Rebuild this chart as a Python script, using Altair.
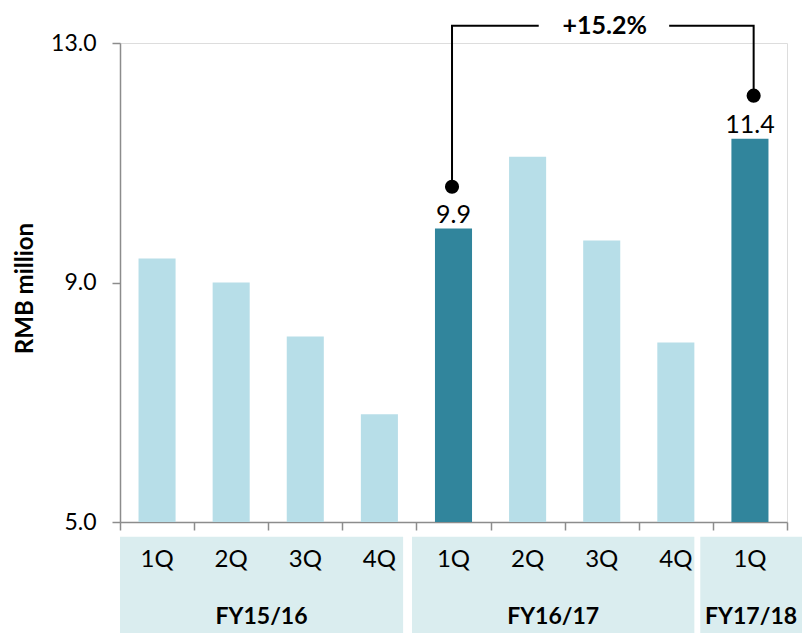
import altair as alt
import pandas as pd

# Quarterly values, RMB million
quarters = ["1Q", "2Q", "3Q", "4Q", "1Q", "2Q", "3Q", "4Q", "1Q"]
years = ["FY15/16"] * 4 + ["FY16/17"] * 4 + ["FY17/18"]
values = [9.4, 9.0, 8.1, 6.8, 9.9, 11.1, 9.7, 8.0, 11.4]
highlight = [False, False, False, False, True, False, False, False, True]

# Fiscal-year groups shown under the axis (span in category slots)
group_names = ["FY15/16", "FY16/17", "FY17/18"]
group_start = [0.0, 3.94, 7.83]
group_end = [3.82, 7.75, 9.4]

# Growth bracket between the two highlighted quarters
bracket_x = [4.48, 4.48, 5.65, None, 7.41, 8.55, 8.55]
bracket_y = [10.6, 13.29, 13.29, None, 13.29, 13.29, 12.12]
growth_label = "+15.2%"

LIGHT = "#B7DEE8"
DARK = "#31859C"
PANEL = "#DAEDEF"
FONT = "Lato"

bars_df = pd.DataFrame({
    "slot": list(range(len(values))),
    "quarter": quarters,
    "year": years,
    "value": values,
    "hl": highlight,
})
bars_df["x0"] = bars_df["slot"] + 0.25
bars_df["x1"] = bars_df["slot"] + 0.75
bars_df["xc"] = bars_df["slot"] + 0.5
bars_df["color"] = [DARK if h else LIGHT for h in highlight]
bars_df["base"] = 5.0
bars_df["qy"] = 4.25

groups_df = pd.DataFrame({
    "name": group_names,
    "x0": group_start,
    "x1": group_end,
})
groups_df["xc"] = [(a + min(b, 9.2)) / 2 for a, b in zip(group_start, group_end)]
groups_df["ytop"] = 4.755
groups_df["ybot"] = 3.0
groups_df["ylab"] = 3.29

seg_rows = []
seg_id = 0
order = 0
for x, y in zip(bracket_x, bracket_y):
    if x is None:
        seg_id += 1
        continue
    seg_rows.append({"x": x, "y": y, "seg": seg_id, "o": order})
    order += 1
bracket_df = pd.DataFrame(seg_rows)

dots_df = pd.DataFrame({"x": [4.48, 8.55], "y": [10.6, 12.12]})
growth_df = pd.DataFrame({"x": [6.54], "y": [13.29], "t": [growth_label]})

x_scale = alt.Scale(domain=[0, 9], nice=False, zero=False)
y_scale = alt.Scale(domain=[5, 13], nice=False, zero=False)

x_axis = alt.Axis(
    values=list(range(10)), labels=False, title=None, grid=False,
    tickSize=8, tickColor="#8C8C8C", domainColor="#8C8C8C",
    tickWidth=1.5, domainWidth=1.5,
)
y_axis = alt.Axis(
    values=[5, 9, 13], format=".1f", title="RMB million", grid=False,
    tickSize=8, tickColor="#8C8C8C", domainColor="#8C8C8C",
    tickWidth=1.5, domainWidth=1.5,
    labelFont=FONT, labelFontSize=23, labelColor="#000000", labelPadding=16,
    titleFont=FONT, titleFontSize=24, titleFontWeight="bold", titleColor="#000000",
    titleX=-95, titleY=245, titleAngle=-90, titleAlign="center", titleBaseline="middle",
)

base = alt.Chart(bars_df)

panels = alt.Chart(groups_df).mark_rect(color=PANEL, clip=False).encode(
    x=alt.X("x0:Q", scale=x_scale, axis=x_axis),
    x2="x1:Q",
    y=alt.Y("ytop:Q", scale=y_scale, axis=y_axis),
    y2="ybot:Q",
)

group_text = alt.Chart(groups_df).mark_text(
    font=FONT, fontSize=23, fontWeight="bold", color="#000000",
    baseline="alphabetic", clip=False,
).encode(
    x=alt.X("xc:Q", scale=x_scale),
    y=alt.Y("ylab:Q", scale=y_scale),
    text="name:N",
)

quarter_text = base.mark_text(
    font=FONT, fontSize=24, color="#000000", baseline="alphabetic", clip=False,
).encode(
    x=alt.X("xc:Q", scale=x_scale),
    y=alt.Y("qy:Q", scale=y_scale),
    text="quarter:N",
)

bars = base.mark_rect().encode(
    x=alt.X("x0:Q", scale=x_scale),
    x2="x1:Q",
    y=alt.Y("base:Q", scale=y_scale),
    y2="value:Q",
    color=alt.Color("color:N", scale=None),
)

value_labels = base.transform_filter("datum.hl").mark_text(
    font=FONT, fontSize=25, color="#000000", baseline="alphabetic", dy=-6,
).encode(
    x=alt.X("xc:Q", scale=x_scale),
    y=alt.Y("value:Q", scale=y_scale),
    text=alt.Text("value:Q", format=".1f"),
)

bracket = alt.Chart(bracket_df).mark_line(
    color="#000000", strokeWidth=2, clip=False,
).encode(
    x=alt.X("x:Q", scale=x_scale),
    y=alt.Y("y:Q", scale=y_scale),
    detail="seg:N",
    order="o:Q",
)

dots = alt.Chart(dots_df).mark_circle(
    color="#000000", size=200, opacity=1,
).encode(
    x=alt.X("x:Q", scale=x_scale),
    y=alt.Y("y:Q", scale=y_scale),
)

growth = alt.Chart(growth_df).mark_text(
    font=FONT, fontSize=25, fontWeight="bold", color="#000000",
    baseline="middle", clip=False,
).encode(
    x=alt.X("x:Q", scale=x_scale),
    y=alt.Y("y:Q", scale=y_scale),
    text="t:N",
)

chart = alt.layer(
    panels, group_text, quarter_text, bars, value_labels, bracket, dots, growth,
).properties(
    width=667,
    height=479,
    autosize=alt.AutoSizeParams(type="none"),
    padding={"left": 120, "top": 43, "right": 15, "bottom": 111},
).configure_view(
    stroke=None,
).configure(
    background="#FFFFFF",
)

chart.save("out.html", embed_options={"renderer": "svg", "actions": False})
